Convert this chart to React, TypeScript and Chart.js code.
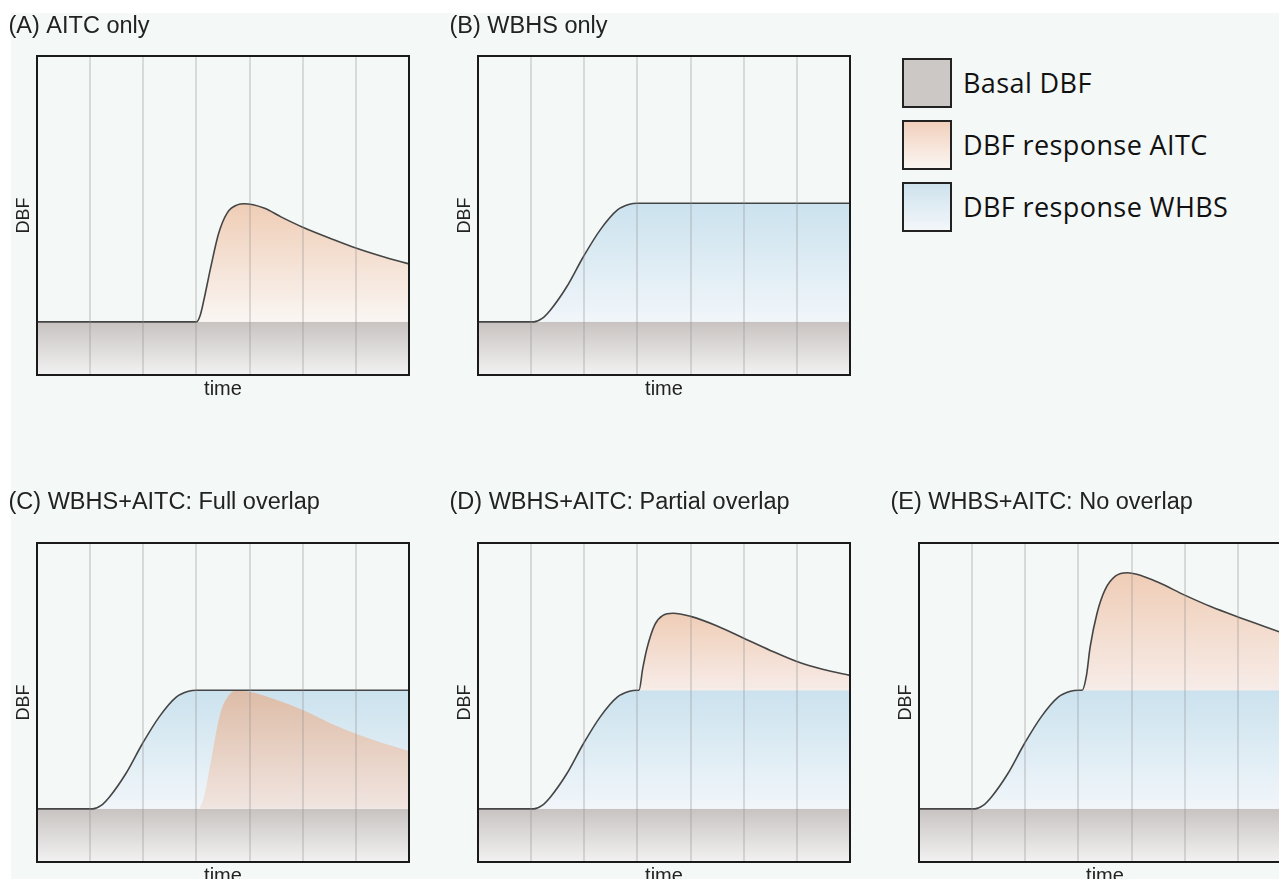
import React, { useEffect, useRef } from "react";
import { Chart, registerables } from "chart.js";

Chart.register(...registerables);

// ---------- data (schematic DBF units, time units) ----------
const timeMin = 0;
const timeMax = 7;
const dbfMin = 0;
const dbfMax = 6;

const basalTime = [0, 7];
const basalValue = [1.0, 1.0];

const wbhsTime = [0, 1.05, 1.2, 1.36, 1.67, 1.98, 2.3, 2.62, 2.85, 3.0, 7.0];
const wbhsValue = [1.0, 1.0, 1.06, 1.22, 1.66, 2.22, 2.73, 3.1, 3.21, 3.23, 3.23];

const aitcOnlyTime = [3.0, 3.07, 3.14, 3.27, 3.42, 3.58, 3.77, 3.9, 4.27, 4.6, 5.0, 5.6, 6.0, 6.5, 7.0];
const aitcOnlyValue = [1.0, 1.12, 1.41, 2.03, 2.67, 3.05, 3.2, 3.22, 3.14, 2.97, 2.78, 2.54, 2.39, 2.23, 2.09];

const aitcFullTime = [3.05, 3.12, 3.2, 3.32, 3.45, 3.6, 3.73, 4.0, 4.5, 5.0, 5.5, 6.0, 6.5, 7.0];
const aitcFullValue = [1.0, 1.15, 1.5, 2.16, 2.8, 3.12, 3.22, 3.2, 3.05, 2.86, 2.62, 2.41, 2.24, 2.09];

const aitcPartialTime = [3.03, 3.1, 3.18, 3.33, 3.48, 3.67, 4.0, 4.5, 5.0, 5.5, 6.0, 6.5, 7.0];
const aitcPartialValue = [3.23, 3.64, 4.02, 4.47, 4.64, 4.68, 4.62, 4.44, 4.21, 3.98, 3.77, 3.62, 3.51];

const aitcNoOverlapTime = [3.07, 3.15, 3.22, 3.35, 3.5, 3.7, 3.92, 4.2, 4.5, 5.0, 5.5, 6.0, 6.5, 7.0];
const aitcNoOverlapValue = [3.23, 3.5, 4.04, 4.68, 5.12, 5.38, 5.44, 5.38, 5.26, 5.02, 4.8, 4.61, 4.43, 4.25];

const panelTitles = [
  "(A) AITC only",
  "(B) WBHS only",
  "(C) WBHS+AITC: Full overlap",
  "(D) WBHS+AITC: Partial overlap",
  "(E) WHBS+AITC: No overlap",
];
const xAxisLabel = "time";
const yAxisLabel = "DBF";
const legendLabels = ["Basal DBF", "DBF response AITC", "DBF response WHBS"];

// ---------- helpers ----------
type Pt = { x: number; y: number };
const pts = (t: number[], v: number[]): Pt[] => t.map((x, i) => ({ x, y: v[i] }));

function gradient(topVal: number, botVal: number, topColor: string, botColor: string) {
  return (ctx: any) => {
    const chart = ctx.chart;
    const y = chart.scales && chart.scales.y;
    if (!chart.chartArea || !y) return topColor;
    const g = chart.ctx.createLinearGradient(0, y.getPixelForValue(topVal), 0, y.getPixelForValue(botVal));
    g.addColorStop(0, topColor);
    g.addColorStop(1, botColor);
    return g;
  };
}

const frame = {
  id: "frame",
  afterDraw(chart: any) {
    const { ctx, chartArea: a } = chart;
    ctx.save();
    ctx.strokeStyle = "#1a1a1a";
    ctx.lineWidth = 2;
    ctx.strokeRect(a.left, a.top, a.right - a.left, a.bottom - a.top);
    ctx.restore();
  },
};

type PanelCfg = {
  title: string;
  left: number;
  top: number;
  height: number;
  titleGap: number;
  wbhs: boolean;
  aitc?: { t: number[]; v: number[] };
  aitcOnWbhs?: boolean;
  overlay?: boolean;
};

function buildDatasets(cfg: PanelCfg) {
  const basal = pts(basalTime, basalValue);
  const ds: any[] = [];
  ds.push({
    data: basal,
    fill: "origin",
    borderWidth: 0,
    pointRadius: 0,
    backgroundColor: gradient(basalValue[0], dbfMin, "rgb(200,195,193)", "rgb(242,242,242)"),
    order: 10,
  });
  let wbhsIndex = -1;
  const wb = pts(wbhsTime, wbhsValue);
  if (cfg.wbhs) {
    wbhsIndex = ds.length;
    ds.push({
      data: wb,
      fill: 0,
      borderWidth: 0,
      pointRadius: 0,
      cubicInterpolationMode: "monotone",
      backgroundColor: gradient(Math.max(...wbhsValue), basalValue[0], "rgb(203,226,238)", "rgb(241,246,250)"),
      order: 9,
    });
  }
  let outline: Pt[] = wb;
  if (cfg.aitc) {
    const ai = pts(cfg.aitc.t, cfg.aitc.v);
    const peak = Math.max(...cfg.aitc.v);
    const base = cfg.aitc.v[0];
    let top = "rgb(239,205,182)";
    let bot = "rgb(250,246,243)";
    if (cfg.overlay) {
      top = "rgba(226,178,148,0.78)";
      bot = "rgba(240,226,220,0.85)";
    } else if (cfg.aitcOnWbhs) {
      bot = "rgb(247,236,232)";
    }
    ds.push({
      data: ai,
      fill: cfg.aitcOnWbhs ? wbhsIndex : 0,
      borderWidth: 0,
      pointRadius: 0,
      cubicInterpolationMode: "monotone",
      backgroundColor: gradient(peak, base, top, bot),
      order: 8,
    });
    if (!cfg.overlay) {
      const lead = cfg.wbhs ? wb : basal;
      outline = lead.filter((p) => p.x < ai[0].x).concat(ai);
    }
  }
  ds.push({
    data: outline,
    fill: false,
    borderColor: "#454545",
    borderWidth: 1.6,
    pointRadius: 0,
    cubicInterpolationMode: "monotone",
    order: 0,
  });
  return ds;
}

function Panel({ cfg }: { cfg: PanelCfg }) {
  const ref = useRef<HTMLCanvasElement | null>(null);
  useEffect(() => {
    if (!ref.current) return;
    const chart = new Chart(ref.current, {
      type: "line",
      data: { datasets: buildDatasets(cfg) },
      options: {
        responsive: false,
        animation: false,
        events: [],
        layout: { padding: { left: 8.5, right: 21, top: 0, bottom: 0 } },
        plugins: {
          legend: { display: false },
          tooltip: { enabled: false },
          title: {
            display: true,
            text: cfg.title,
            align: "start",
            color: "#222",
            font: { family: "'Liberation Sans', Arial, sans-serif", size: 23.5, weight: "normal" },
            padding: { top: 12, bottom: cfg.titleGap },
          },
        },
        scales: {
          x: {
            type: "linear",
            min: timeMin,
            max: timeMax,
            ticks: { display: false, stepSize: 1 },
            grid: { color: "rgba(140,140,140,0.28)", lineWidth: 2, drawTicks: false, z: 1 },
            border: { display: false },
            title: {
              display: true,
              text: xAxisLabel,
              color: "#222",
              font: { family: "'Liberation Sans', Arial, sans-serif", size: 20 },
              padding: { top: 2, bottom: 0 },
            },
          },
          y: {
            type: "linear",
            min: dbfMin,
            max: dbfMax,
            ticks: { display: false },
            grid: { display: false, drawTicks: false },
            border: { display: false },
            title: {
              display: true,
              text: yAxisLabel,
              color: "#222",
              font: { family: "'Liberation Sans', Arial, sans-serif", size: 18 },
              padding: { top: 5.2, bottom: 1.7 },
            },
          },
        },
      },
      plugins: [frame],
    });
    return () => chart.destroy();
  }, []);
  return (
    <canvas
      ref={ref}
      width={430}
      height={cfg.height}
      style={{ position: "absolute", left: cfg.left, top: cfg.top, width: 430, height: cfg.height }}
    />
  );
}

const panels: PanelCfg[] = [
  { title: panelTitles[0], left: 0, top: 0, height: 401, titleGap: 15.8, wbhs: false, aitc: { t: aitcOnlyTime, v: aitcOnlyValue } },
  { title: panelTitles[1], left: 441, top: 0, height: 401, titleGap: 15.8, wbhs: true },
  { title: panelTitles[2], left: 0, top: 476, height: 412, titleGap: 26.8, wbhs: true, aitc: { t: aitcFullTime, v: aitcFullValue }, overlay: true },
  { title: panelTitles[3], left: 441, top: 476, height: 412, titleGap: 26.8, wbhs: true, aitc: { t: aitcPartialTime, v: aitcPartialValue }, aitcOnWbhs: true },
  { title: panelTitles[4], left: 882, top: 476, height: 412, titleGap: 26.8, wbhs: true, aitc: { t: aitcNoOverlapTime, v: aitcNoOverlapValue }, aitcOnWbhs: true },
];

const legendFills = [
  "rgb(204,200,198)",
  "linear-gradient(to bottom, rgb(241,208,188), rgb(251,246,242))",
  "linear-gradient(to bottom, rgb(206,226,237), rgb(243,247,250))",
];

function Legend() {
  return (
    <div style={{ position: "absolute", left: 902, top: 58 }}>
      {legendLabels.map((label, i) => (
        <div key={label} style={{ position: "absolute", left: 0, top: i * 62, height: 50, width: 370, display: "flex", alignItems: "center" }}>
          <div style={{ width: 46, height: 46, border: "2px solid #222", background: legendFills[i], flex: "none" }} />
          <div style={{ marginLeft: 11, fontFamily: "'Open Sans', sans-serif", fontSize: 27, letterSpacing: 0.4, color: "#111", whiteSpace: "nowrap", lineHeight: "50px" }}>
            {label}
          </div>
        </div>
      ))}
    </div>
  );
}

export default function App() {
  return (
    <div style={{ position: "fixed", left: 0, top: 0, width: 1279, height: 879, overflow: "hidden", background: "#ffffff" }}>
      <div style={{ position: "absolute", left: 11, top: 13, right: 0, bottom: 0, background: "#f4f8f7" }} />
      {panels.map((p) => (
        <Panel key={p.title} cfg={p} />
      ))}
      <Legend />
    </div>
  );
}
